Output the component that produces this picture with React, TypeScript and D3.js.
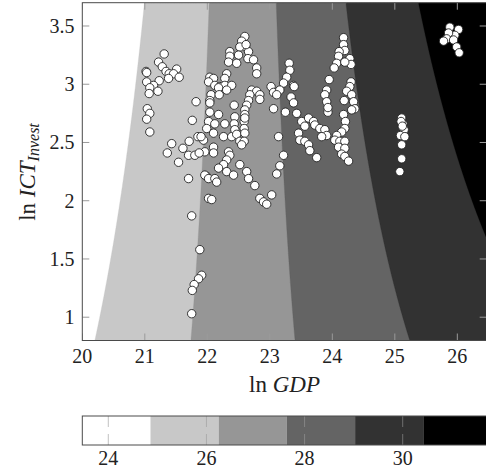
import React, { useMemo } from 'react';
import * as d3 from 'd3';

// ---- data ----
const lnGDP = [
  21.31, 21.22, 21.28, 21.02, 21.03, 21.34, 21.51, 21.39, 21.46, 21.55, 21.38, 21.23, 21.03, 21.14, 21.08, 21.21, 21.07, 21.04, 21.08, 21.03,
  21.08, 21.82, 21.76, 21.43, 21.36, 21.61, 21.71, 21.85, 21.94, 21.70, 21.80, 21.96, 21.54, 21.70, 21.87, 21.99,
  22.60, 22.55, 22.61, 22.52, 22.36, 22.50, 22.66, 22.65, 22.74, 22.36, 22.34, 22.47, 22.79, 22.79, 22.31, 22.28, 22.04, 22.10, 22.02, 22.12,
  22.20, 22.28, 22.39, 22.31, 22.18, 22.06, 22.19, 22.04, 22.04, 22.71, 22.79, 22.84, 22.84, 22.68, 22.66, 22.63, 22.60, 22.43, 22.60,
  23.31, 23.32, 23.27, 23.22, 23.38, 23.02, 23.06, 23.16, 23.11, 23.34, 23.38, 23.06, 23.25, 23.43,
  22.04, 22.18, 22.02, 22.12, 22.28, 21.99, 22.10, 22.26, 22.39, 22.44, 22.43, 22.44, 22.47, 22.59, 22.59, 22.60, 22.52, 22.59, 22.55,
  23.14, 21.90, 22.10, 22.10, 22.34, 22.36, 22.31, 22.26, 22.18, 22.31, 22.42, 22.52, 22.63, 22.66, 22.76, 23.22, 23.16, 23.11,
  21.96, 22.02, 22.12, 22.15, 22.02, 22.07, 22.84, 22.90, 22.95, 23.03,
  24.18, 24.18, 24.20, 24.11, 24.10, 24.07, 24.03, 24.28, 24.30, 24.20, 23.39, 23.95, 23.91, 23.88, 23.91, 23.93, 23.93,
  24.30, 24.28, 24.23, 24.31, 24.19, 24.34, 24.36, 24.31, 23.51, 23.56, 23.62, 23.70, 23.72, 23.80, 23.88, 23.91, 23.83,
  23.46, 23.48, 23.56, 23.62, 23.64, 23.75, 24.18, 24.21, 24.20, 24.15, 24.07, 24.04, 24.12, 24.20, 24.10, 24.20, 24.15, 24.20, 24.26,
  25.88, 26.02, 25.96, 25.86, 25.83, 25.78, 25.94, 25.99, 26.03,
  25.11, 25.13, 25.15, 25.09, 25.16, 25.11, 25.11, 25.08, 25.10, 25.12,
  21.75, 21.88, 21.91, 21.86, 21.79, 21.76, 21.75, 22.62, 22.60,
];
const lnICT = [
  3.26, 3.19, 3.15, 3.11, 3.10, 3.11, 3.13, 3.09, 3.09, 3.06, 3.05, 3.03, 3.02, 2.99, 2.97, 2.94, 2.92, 2.79, 2.75, 2.70,
  2.59, 2.85, 2.69, 2.49, 2.41, 2.45, 2.51, 2.55, 2.52, 2.39, 2.39, 2.42, 2.33, 2.19, 2.41, 2.21,
  3.41, 3.37, 3.32, 3.32, 3.28, 3.25, 3.28, 3.22, 3.21, 3.24, 3.19, 3.18, 3.14, 3.09, 3.09, 3.05, 3.06, 3.05, 3.02, 2.99,
  2.98, 2.99, 2.99, 2.95, 2.97, 2.91, 2.91, 2.86, 2.84, 2.95, 2.94, 2.91, 2.87, 2.91, 2.86, 2.82, 2.78, 2.82, 2.74,
  3.18, 3.12, 3.06, 3.01, 2.99, 2.98, 2.93, 2.95, 2.91, 2.89, 2.84, 2.79, 2.76, 2.75,
  2.76, 2.74, 2.68, 2.66, 2.66, 2.62, 2.58, 2.55, 2.55, 2.72, 2.66, 2.61, 2.57, 2.68, 2.62, 2.58, 2.51, 2.51, 2.48,
  2.55, 2.55, 2.46, 2.41, 2.42, 2.39, 2.35, 2.31, 2.28, 2.25, 2.22, 2.31, 2.25, 2.19, 2.13, 2.39, 2.30, 2.23,
  2.22, 2.19, 2.19, 2.16, 2.02, 2.01, 2.02, 1.99, 1.97, 2.05,
  3.40, 3.34, 3.29, 3.28, 3.24, 3.18, 3.14, 3.22, 3.17, 3.19, 2.98, 3.04, 2.95, 2.91, 2.85, 2.76, 2.80,
  3.02, 2.98, 2.94, 2.91, 2.86, 2.85, 2.79, 2.78, 2.68, 2.64, 2.71, 2.68, 2.65, 2.62, 2.61, 2.56, 2.55,
  2.58, 2.52, 2.51, 2.48, 2.43, 2.37, 2.74, 2.68, 2.62, 2.59, 2.56, 2.52, 2.51, 2.51, 2.46, 2.45, 2.40, 2.38, 2.34,
  3.49, 3.47, 3.42, 3.44, 3.39, 3.37, 3.38, 3.32, 3.27,
  2.71, 2.66, 2.61, 2.56, 2.55, 2.48, 2.36, 2.25, 2.68, 2.64,
  1.87, 1.58, 1.36, 1.33, 1.28, 1.23, 1.03, 3.34, 2.71,
];

const xTicks = [20, 21, 22, 23, 24, 25, 26];
const yTicks = [1, 1.5, 2, 2.5, 3, 3.5];
const cbTicks = [24, 26, 28, 30];
const xDomain = [20, 26.47];
const yDomain = [0.8, 3.7];
const cbDomain = [23.47, 31.81];
const levels = [24.86, 26.25, 27.64, 29.03, 30.42];
const bandColors = ['#ffffff', '#c8c8c8', '#969696', '#646464', '#323232', '#000000'];
// fitted surface: a + b·x + c·y + d·x·y + e·x²
const surfaceCoef = [-0.201, 1.7, -3.59, 0.159, -0.022];

const W = 486;
const H = 468;
const FONT = '"Liberation Serif", "DejaVu Serif", serif';

function surface(x: number, y: number) {
  const [a, b, c, d, e] = surfaceCoef;
  return a + b * x + c * y + d * x * y + e * x * x;
}

export default function App() {
  const L = 82.3, R = 486.7, T = 2.7, B = 340.5;
  const xS = d3.scaleLinear().domain(xDomain).range([L, R]);
  const yS = d3.scaleLinear().domain(yDomain).range([B, T]);
  const cbL = 82.3, cbR = 491.5, cbT = 416, cbB = 445;
  const cS = d3.scaleLinear().domain(cbDomain).range([cbL, cbR]);

  const paths = useMemo(() => {
    const n = 260, m = 200;
    const dx = (xDomain[1] - xDomain[0]) / n;
    const dy = (yDomain[1] - yDomain[0]) / m;
    const values = new Array(n * m);
    for (let j = 0; j < m; j++) {
      const yv = yDomain[1] - (j + 0.5) * dy;
      for (let i = 0; i < n; i++) {
        const xv = xDomain[0] + (i + 0.5) * dx;
        values[j * n + i] = surface(xv, yv);
      }
    }
    const cs = d3.contours().size([n, m]).thresholds(levels)(values);
    const proj = d3.geoTransform({
      point: function (this: any, gx: number, gy: number) {
        this.stream.point(xS(xDomain[0] + gx * dx), yS(yDomain[1] - gy * dy));
      },
    });
    const gp = d3.geoPath(proj);
    return cs.map((c, k) => ({ d: gp(c as any) || '', fill: bandColors[k + 1] }));
  }, []);

  const cbEdges = [cbDomain[0], ...levels, cbDomain[1]];
  const tickColor = '#9a9a9a';
  const tl = 7;
  const txt = { fontFamily: FONT, fill: '#222' } as React.CSSProperties;

  return (
    <svg width={W} height={H} style={{ position: 'absolute', left: 0, top: 0, background: '#fff' }}>
      <defs>
        <clipPath id="plotclip">
          <rect x={L} y={T} width={R - L} height={B - T} />
        </clipPath>
      </defs>
      <g clipPath="url(#plotclip)">
        <rect x={L} y={T} width={R - L} height={B - T} fill={bandColors[0]} />
        {paths.map((p, i) => (
          <path key={i} d={p.d} fill={p.fill} stroke={p.fill} strokeWidth={0.3} />
        ))}
        {xTicks.map((t) => (
          <g key={'xt' + t}>
            <line x1={xS(t)} x2={xS(t)} y1={B} y2={B - tl} stroke={tickColor} />
            <line x1={xS(t)} x2={xS(t)} y1={T} y2={T + tl} stroke={tickColor} />
          </g>
        ))}
        {yTicks.map((t) => (
          <g key={'yt' + t}>
            <line x1={L} x2={L + tl} y1={yS(t)} y2={yS(t)} stroke={tickColor} />
            <line x1={R} x2={R - tl} y1={yS(t)} y2={yS(t)} stroke={tickColor} />
          </g>
        ))}
        {lnGDP.map((x, i) => (
          <circle key={i} cx={xS(x)} cy={yS(lnICT[i])} r={4.2} fill="#fff" stroke="#222" strokeWidth={0.9} />
        ))}
      </g>
      <rect x={L} y={T} width={R - L} height={B - T} fill="none" stroke="#4a4a4a" strokeWidth={1} />

      {xTicks.map((t) => (
        <text key={'xl' + t} x={xS(t)} y={362.5} textAnchor="middle" fontSize={20} style={txt}>{t}</text>
      ))}
      {yTicks.map((t) => (
        <text key={'yl' + t} x={74.5} y={yS(t) + 7} textAnchor="end" fontSize={20} style={txt}>{t}</text>
      ))}
      <text x={(L + R) / 2} y={391.5} textAnchor="middle" fontSize={23} style={txt}>
        <tspan>ln </tspan>
        <tspan fontStyle="italic">GDP</tspan>
      </text>
      <text transform={`translate(35,172) rotate(-90)`} textAnchor="middle" fontSize={23} style={txt}>
        <tspan>ln </tspan>
        <tspan fontStyle="italic">ICT</tspan>
        <tspan fontStyle="italic" fontSize={16} dy={4}>Invest</tspan>
      </text>

      {/* colorbar */}
      {bandColors.map((c, i) => (
        <rect key={'cb' + i} x={cS(cbEdges[i])} y={cbT} width={cS(cbEdges[i + 1]) - cS(cbEdges[i])} height={cbB - cbT} fill={c} />
      ))}
      {cbTicks.map((t) => (
        <g key={'ct' + t}>
          <line x1={cS(t)} x2={cS(t)} y1={cbT} y2={cbT + 11} stroke={tickColor} strokeOpacity={0.6} />
          <line x1={cS(t)} x2={cS(t)} y1={cbB} y2={cbB - 11} stroke={tickColor} strokeOpacity={0.6} />
          <text x={cS(t)} y={464.5} textAnchor="middle" fontSize={20} style={txt}>{t}</text>
        </g>
      ))}
      <rect x={cbL} y={cbT} width={cbR - cbL} height={cbB - cbT} fill="none" stroke="#4a4a4a" strokeWidth={1} />
    </svg>
  );
}
